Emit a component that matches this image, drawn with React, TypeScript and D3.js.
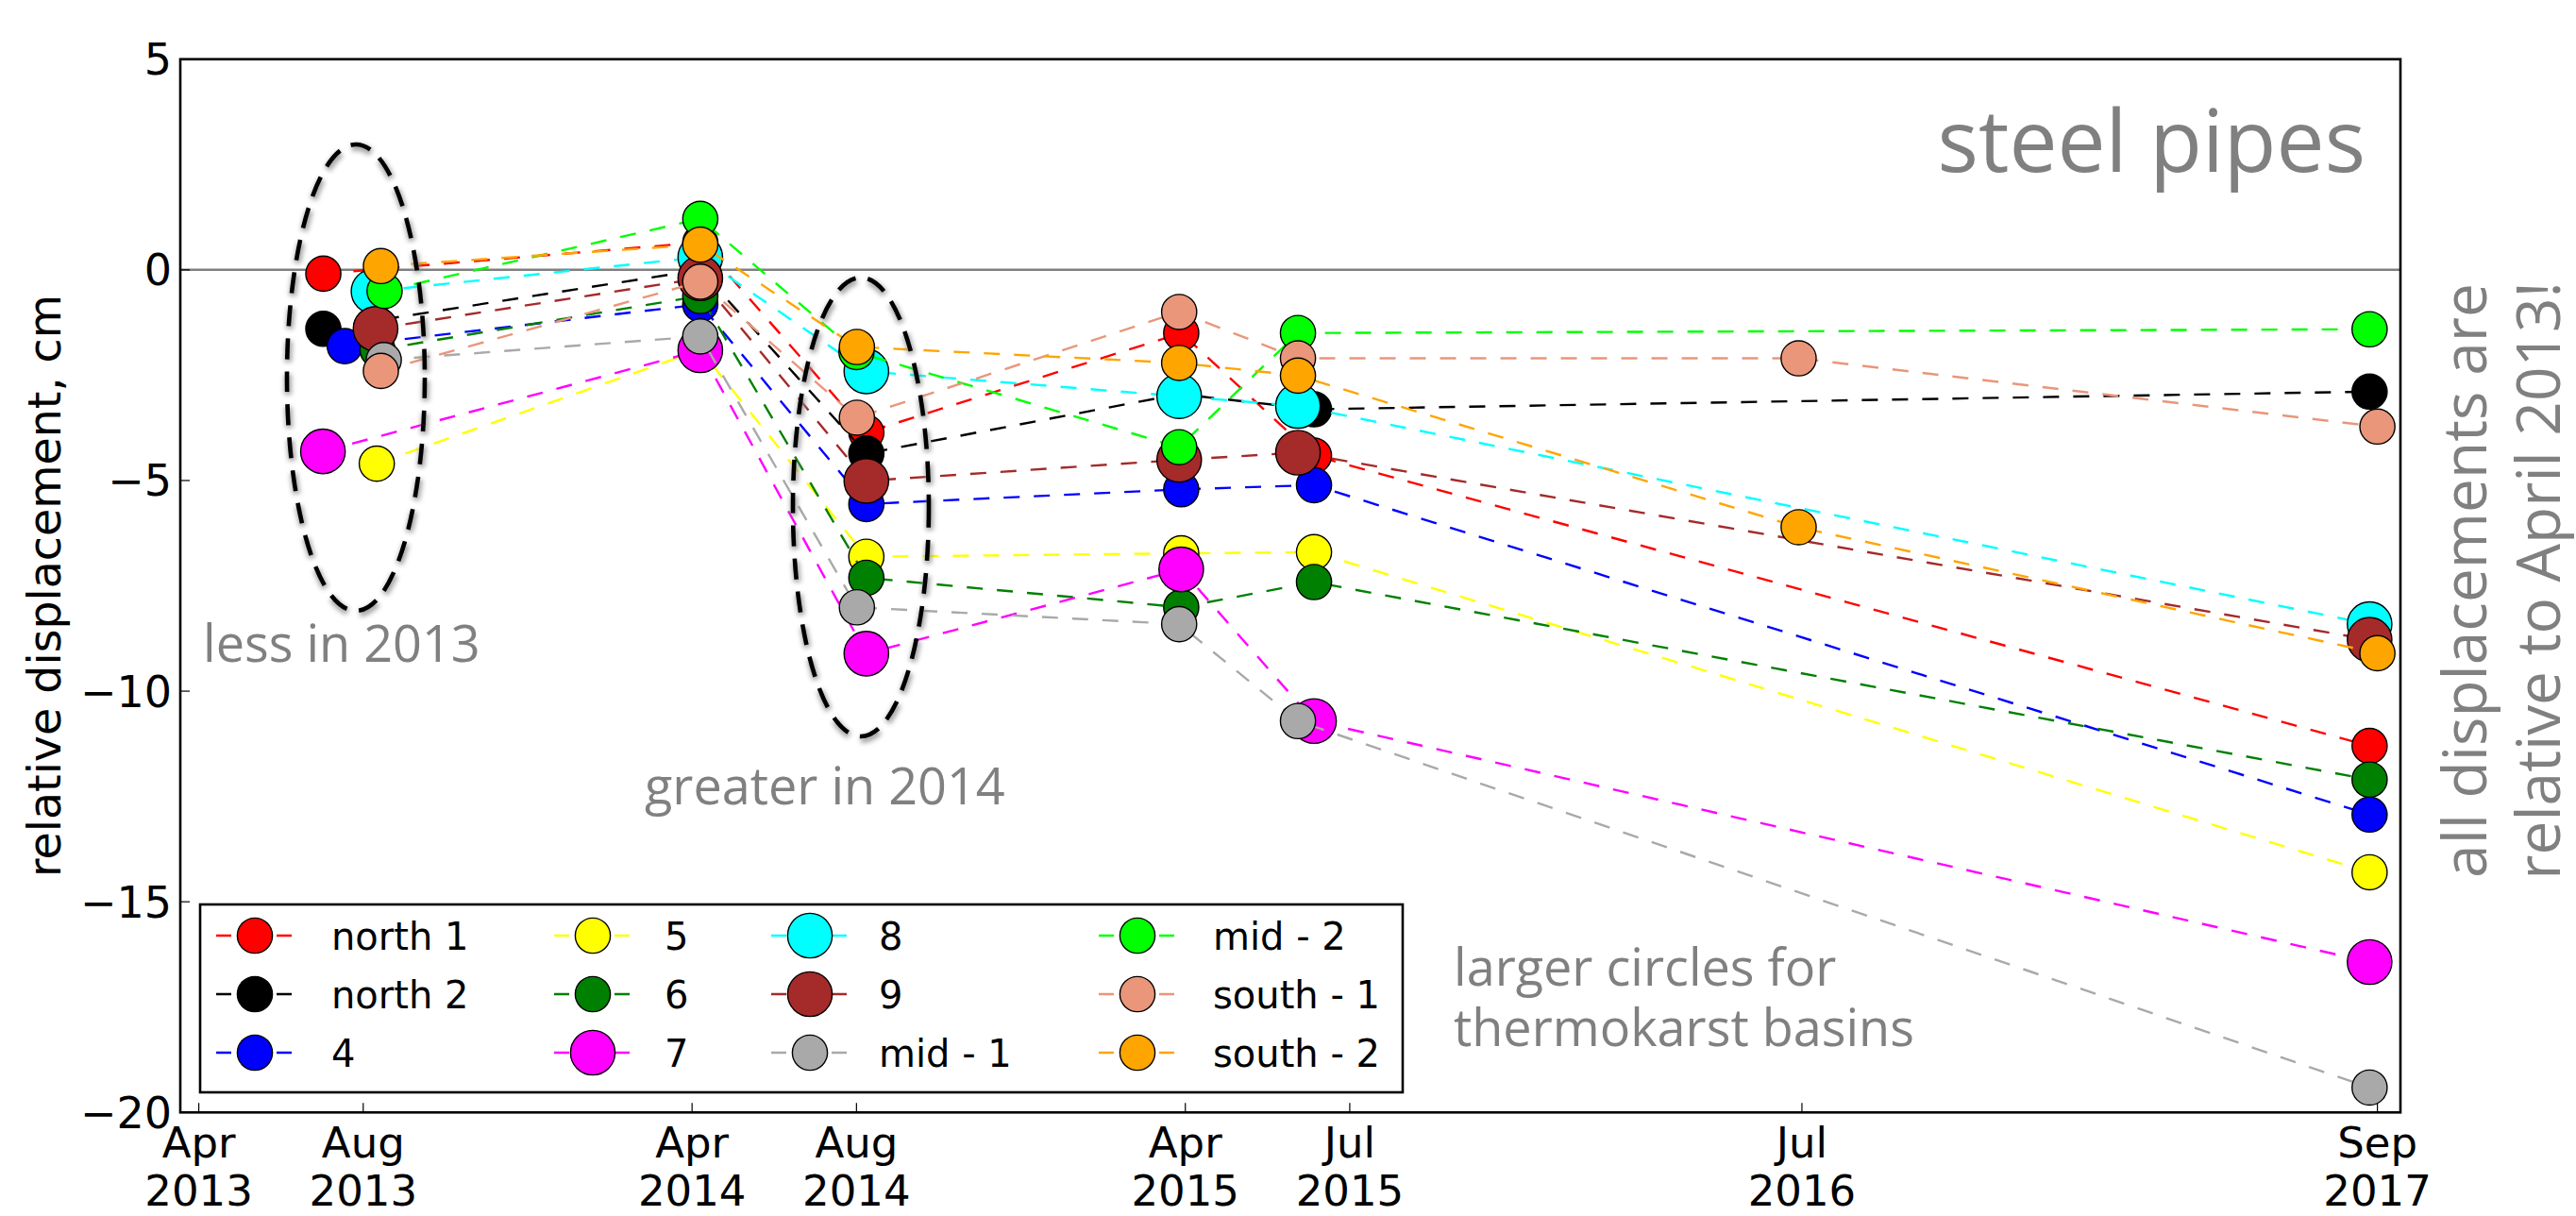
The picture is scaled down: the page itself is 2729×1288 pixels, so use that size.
import React from "react";
import * as d3 from "d3";

// Survey epochs on the x axis, counted in months since April 2013.
const TICK_MONTHS = [0, 4, 12, 16, 24, 28, 39, 53];
const TICK_MONTH_LABELS = ["Apr", "Aug", "Apr", "Aug", "Apr", "Jul", "Jul", "Sep"];
const TICK_YEAR_LABELS = ["2013", "2013", "2014", "2014", "2015", "2015", "2016", "2017"];
const Y_TICKS = [5, 0, -5, -10, -15, -20];

// Pipe names, colours and whether the pipe sits in a thermokarst basin (larger circles).
const PIPE_NAMES = ["north 1", "north 2", "4", "5", "6", "7", "8", "9", "mid - 1", "mid - 2", "south - 1", "south - 2"];
const PIPE_COLORS = ["#ff0000", "#000000", "#0000ff", "#ffff00", "#008000", "#ff00ff", "#00ffff", "#a52a2a", "#a9a9a9", "#00ff00", "#e9967a", "#ffa500"];
const IN_THERMOKARST = [false, false, false, false, false, true, true, true, false, false, false, false];

// Survey dates (months since April 2013) and displacement (cm) per pipe.
const NORTH_1_MONTHS = [3.03, 12.2, 16.24, 23.9, 27.13, 52.81];
const NORTH_1_CM = [-0.09, 0.65, -3.86, -1.5, -4.41, -11.3];
const NORTH_2_MONTHS = [3.03, 12.2, 16.24, 23.85, 27.13, 52.81];
const NORTH_2_CM = [-1.4, 0.0, -4.36, -2.95, -3.31, -2.89];
const PIPE_4_MONTHS = [3.55, 12.2, 16.24, 23.9, 27.13, 52.81];
const PIPE_4_CM = [-1.81, -0.82, -5.56, -5.21, -5.11, -12.93];
const PIPE_5_MONTHS = [4.33, 12.2, 16.24, 23.9, 27.13, 52.81];
const PIPE_5_CM = [-4.6, -1.9, -6.81, -6.73, -6.7, -14.3];
const PIPE_6_MONTHS = [4.35, 12.2, 16.24, 23.9, 27.13, 52.81];
const PIPE_6_CM = [-1.9, -0.62, -7.31, -8.01, -7.41, -12.1];
const PIPE_7_MONTHS = [3.02, 12.2, 16.24, 23.9, 27.13, 52.81];
const PIPE_7_CM = [-4.31, -1.91, -9.11, -7.11, -10.71, -16.43];
const PIPE_8_MONTHS = [4.25, 12.2, 16.24, 23.85, 26.74, 52.81];
const PIPE_8_CM = [-0.51, 0.3, -2.41, -3.0, -3.23, -8.41];
const PIPE_9_MONTHS = [4.3, 12.2, 16.24, 23.85, 26.74, 52.81];
const PIPE_9_CM = [-1.4, -0.2, -5.01, -4.51, -4.34, -8.78];
const MID_1_MONTHS = [4.5, 12.2, 16.01, 23.85, 26.74, 52.81];
const MID_1_CM = [-2.14, -1.58, -8.01, -8.41, -10.71, -19.41];
const MID_2_MONTHS = [4.52, 12.2, 16.0, 23.85, 26.74, 52.81];
const MID_2_CM = [-0.5, 1.21, -1.95, -4.21, -1.5, -1.41];
const SOUTH_1_MONTHS = [4.43, 12.2, 16.01, 23.85, 26.74, 38.92, 53.0];
const SOUTH_1_CM = [-2.4, -0.28, -3.51, -1.0, -2.1, -2.1, -3.72];
const SOUTH_2_MONTHS = [4.43, 12.2, 16.01, 23.85, 26.74, 38.92, 53.0];
const SOUTH_2_CM = [0.09, 0.6, -1.83, -2.21, -2.51, -6.11, -9.1];

const ALL_MONTHS = [NORTH_1_MONTHS, NORTH_2_MONTHS, PIPE_4_MONTHS, PIPE_5_MONTHS, PIPE_6_MONTHS, PIPE_7_MONTHS, PIPE_8_MONTHS, PIPE_9_MONTHS, MID_1_MONTHS, MID_2_MONTHS, SOUTH_1_MONTHS, SOUTH_2_MONTHS];
const ALL_CM = [NORTH_1_CM, NORTH_2_CM, PIPE_4_CM, PIPE_5_CM, PIPE_6_CM, PIPE_7_CM, PIPE_8_CM, PIPE_9_CM, MID_1_CM, MID_2_CM, SOUTH_1_CM, SOUTH_2_CM];

const W = 2729;
const H = 1288;
const LEFT = 191;
const RIGHT = 2543;
const TOP = 62.7;
const BOTTOM = 1178.3;

const SANS = "'DejaVu Sans', sans-serif";
const NOTE = "'Open Sans', sans-serif";
const GREY = "#808080";
const DASH = "17 15";

const x = d3.scaleLinear().domain([-0.45, 53.56]).range([LEFT, RIGHT]);
const y = d3.scaleLinear().domain([-20, 5]).range([BOTTOM, TOP]);

const line = d3
  .line<[number, number]>()
  .x((d) => x(d[0]))
  .y((d) => y(d[1]));

const radius = (big: boolean) => (big ? 23.6 : 18.6);

// Legend grid: 4 columns of 3 entries, filled column by column.
const LEG_COL_X = [270, 628, 858, 1205];
const LEG_TEXT_X = [351, 704, 931, 1285];
const LEG_ROW_Y = [991, 1053, 1115];

function Marker({ cx, cy, color, big }: { cx: number; cy: number; color: string; big: boolean }) {
  return <circle cx={cx} cy={cy} r={radius(big)} fill={color} stroke="#000" strokeWidth={1.4} />;
}

function DashedRing({ cx, cy, rx, ry }: { cx: number; cy: number; rx: number; ry: number }) {
  return (
    <g>
      <ellipse cx={cx + 1} cy={cy + 3} rx={rx} ry={ry} fill="none" stroke="#8c8c8c" strokeWidth={8} strokeDasharray="22 13" filter="url(#glow)" opacity={0.75} />
      <ellipse cx={cx} cy={cy} rx={rx} ry={ry} fill="none" stroke="#000" strokeWidth={4.6} strokeDasharray="22 13" />
    </g>
  );
}

export default function App() {
  const series = PIPE_NAMES.map((name, i) => ({
    name,
    color: PIPE_COLORS[i],
    big: IN_THERMOKARST[i],
    pts: ALL_MONTHS[i].map((m, j) => [m, ALL_CM[i][j]] as [number, number]),
  }));

  return (
    <svg
      width={W}
      height={H}
      viewBox={`0 0 ${W} ${H}`}
      style={{ position: "fixed", left: 0, top: 0, background: "#fff" }}
    >
      <defs>
        <filter id="glow" x="-20%" y="-20%" width="140%" height="140%">
          <feGaussianBlur stdDeviation="2.6" />
        </filter>
        <clipPath id="plotArea">
          <rect x={LEFT} y={TOP} width={RIGHT - LEFT} height={BOTTOM - TOP} />
        </clipPath>
      </defs>
      <rect x={0} y={0} width={W} height={H} fill="#fff" />

      {/* zero reference */}
      <line x1={LEFT} x2={RIGHT} y1={y(0)} y2={y(0)} stroke="#808080" strokeWidth={2.4} />

      {/* pipe series: dashed connector then markers, in legend order */}
      <g clipPath="url(#plotArea)">
        {series.map((s) => (
          <g key={s.name}>
            <path d={line(s.pts) || ""} fill="none" stroke={s.color} strokeWidth={2.4} strokeDasharray={DASH} />
            {s.pts.map((p, j) => (
              <Marker key={j} cx={x(p[0])} cy={y(p[1])} color={s.color} big={s.big} />
            ))}
          </g>
        ))}
      </g>

      {/* ticks */}
      {TICK_MONTHS.map((m) => (
        <line key={"xt" + m} x1={x(m)} x2={x(m)} y1={BOTTOM} y2={BOTTOM - 10} stroke="#000" strokeWidth={1.2} />
      ))}
      {Y_TICKS.map((v) => (
        <line key={"yt" + v} x1={LEFT} x2={LEFT + 10} y1={y(v)} y2={y(v)} stroke="#000" strokeWidth={1.2} />
      ))}

      {/* frame */}
      <rect x={LEFT} y={TOP} width={RIGHT - LEFT} height={BOTTOM - TOP} fill="none" stroke="#000" strokeWidth={2.6} />

      {/* tick labels */}
      {TICK_MONTHS.map((m, i) => (
        <text key={"xl" + m} x={x(m)} textAnchor="middle" fontFamily={SANS} fontSize={45} fill="#000">
          <tspan x={x(m)} y={1226}>{TICK_MONTH_LABELS[i]}</tspan>
          <tspan x={x(m)} y={1277}>{TICK_YEAR_LABELS[i]}</tspan>
        </text>
      ))}
      {Y_TICKS.map((v) => (
        <text key={"yl" + v} x={182} y={y(v) + 16.5} textAnchor="end" fontFamily={SANS} fontSize={46} fill="#000">
          {v < 0 ? "\u2212" + Math.abs(v) : String(v)}
        </text>
      ))}

      <text
        transform={`translate(64, ${(TOP + BOTTOM) / 2}) rotate(-90)`}
        textAnchor="middle"
        fontFamily={SANS}
        fontSize={47.5}
        fill="#000"
      >
        relative displacement, cm
      </text>

      {/* legend */}
      <rect x={212} y={958} width={1274} height={199} fill="#fff" stroke="#000" strokeWidth={2.6} />
      {series.map((s, i) => {
        const col = Math.floor(i / 3);
        const row = i % 3;
        const cx = LEG_COL_X[col];
        const cy = LEG_ROW_Y[row];
        return (
          <g key={"leg" + s.name}>
            <line x1={cx - 41} x2={cx + 41} y1={cy} y2={cy} stroke={s.color} strokeWidth={2.4} strokeDasharray="16 16" />
            <Marker cx={cx} cy={cy} color={s.color} big={s.big} />
            <text x={LEG_TEXT_X[col]} y={cy + 14.5} fontFamily={SANS} fontSize={40} fill="#000">
              {s.name}
            </text>
          </g>
        );
      })}

      {/* highlighted survey groups */}
      <DashedRing cx={377} cy={400} rx={73} ry={247} />
      <DashedRing cx={912} cy={537} rx={72} ry={243} />

      {/* annotations */}
      <g fontFamily={NOTE} fill={GREY}>
        <text x={2506} y={182} textAnchor="end" fontSize={91}>steel pipes</text>
        <text x={215} y={701} fontSize={54}>less in 2013</text>
        <text x={683} y={852} fontSize={54}>greater in 2014</text>
        <text fontSize={54}>
          <tspan x={1540} y={1044}>larger circles for</tspan>
          <tspan x={1540} y={1108}>thermokarst basins</tspan>
        </text>
        <text transform="translate(2634, 615) rotate(-90)" textAnchor="middle" fontSize={64}>
          <tspan x={0} y={0}>all displacements are</tspan>
          <tspan x={0} y={78}>relative to April 2013!</tspan>
        </text>
      </g>
    </svg>
  );
}
